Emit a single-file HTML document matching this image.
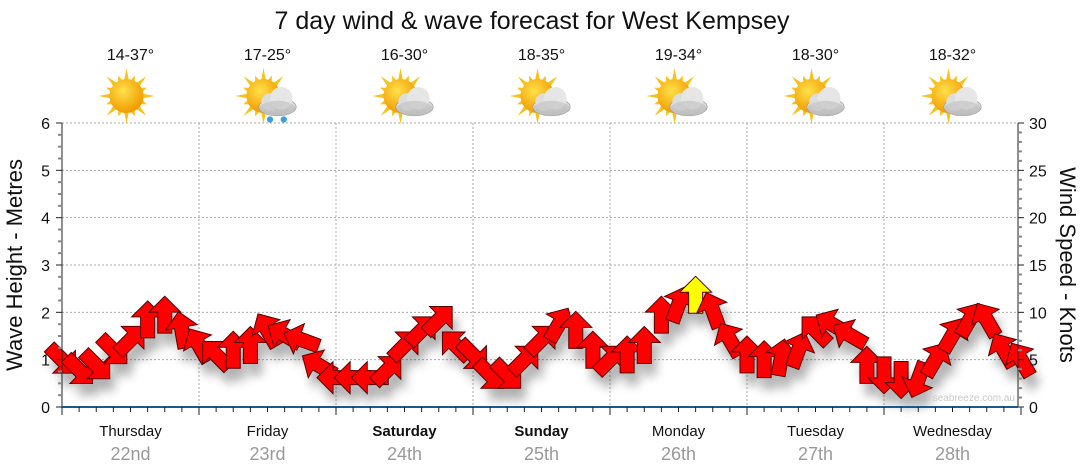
<!DOCTYPE html>
<html><head><meta charset="utf-8">
<style>
html,body{margin:0;padding:0;background:#fff;}
svg{display:block;font-family:"Liberation Sans","DejaVu Sans",sans-serif;}
</style></head>
<body>
<svg id="chart" width="1080" height="475" viewBox="0 0 1080 475" xmlns="http://www.w3.org/2000/svg">
<defs>
<radialGradient id="sunG" cx="40%" cy="35%" r="65%"><stop offset="0" stop-color="#ffe14a"/><stop offset="1" stop-color="#f29a00"/></radialGradient>
<linearGradient id="cloudG" x1="0" y1="0" x2="0" y2="1"><stop offset="0" stop-color="#f2f2f2"/><stop offset="1" stop-color="#a9a9a9"/></linearGradient>
<filter id="sh" x="-50%" y="-50%" width="200%" height="200%"><feGaussianBlur stdDeviation="5"/></filter>
</defs>
<text x="532" y="29" text-anchor="middle" font-size="25" fill="#111">7 day wind &amp; wave forecast for West Kempsey</text>
<g id="grid"></g>
<g id="icons"></g>
<g id="shadows" filter="url(#sh)" opacity="0.3"></g>
<g id="arrows"></g>
<g id="axes"></g>
<text transform="translate(22,265) rotate(-90)" text-anchor="middle" font-size="22" fill="#111">Wave Height - Metres</text>
<text transform="translate(1060,265) rotate(90)" text-anchor="middle" font-size="22" fill="#111">Wind Speed - Knots</text>
<text x="1015" y="401" text-anchor="end" font-size="10" fill="#c8c8c8">seabreeze.com.au</text>
</svg>
<script>
const days = ["Thursday","Friday","Saturday","Sunday","Monday","Tuesday","Wednesday"];
const dates = ["22nd","23rd","24th","25th","26th","27th","28th"];
const temps = ["14-37°","17-25°","16-30°","18-35°","19-34°","18-30°","18-32°"];
const weather = ["sun","rain","cloud","cloud","cloud","cloud","cloud"];
const waveTicks = [0,1,2,3,4,5,6];
const windTicks = [0,5,10,15,20,25,30];
// wind speed (knots) every 3 hours
const windSpeed = [5.0,3.9,4.4,6.0,7.1,9.2,9.7,8.1,
  6.5,5.5,6.0,6.5,8.1,7.6,7.1,4.4,
  3.1,3.1,3.1,3.9,6.5,8.1,9.2,6.5,
  5.5,3.4,3.4,5.0,7.1,8.7,8.1,6.0,
  5.0,5.5,6.5,9.7,10.8,11.8,10.2,7.1,
  5.5,5.0,5.2,6.0,8.1,8.7,7.6,4.4,
  3.4,2.9,2.9,5.0,7.6,9.2,9.2,6.0,5.0];
// arrow heading (degrees, 0 = pointing up, clockwise)
const windDir = [135,135,135,135,45,0,0,350,
  330,315,0,0,330,300,290,300,
  270,270,270,45,45,45,45,315,
  135,135,135,45,45,30,0,0,
  45,0,0,0,20,0,340,330,
  0,0,10,20,315,300,300,0,
  180,180,200,30,30,30,330,330,330];

const NS="http://www.w3.org/2000/svg";
const X0=62,X1=1018,Y0=407,Y1=123;
const dayW=(1021-62)/7;
const xDay=d=>X0+d*dayW;
const xStep=i=>X0+i*dayW/8;
const yWave=m=>Y0-(Y0-Y1)*m/6;
const yWind=k=>Y0-(Y0-Y1)*k/30;
function mk(tag,attrs,parent){const e=document.createElementNS(NS,tag);for(const k in attrs)e.setAttribute(k,attrs[k]);if(parent)parent.appendChild(e);return e;}
const grid=document.getElementById('grid'),axes=document.getElementById('axes'),icons=document.getElementById('icons'),arrows=document.getElementById('arrows'),shadows=document.getElementById('shadows');

waveTicks.forEach(m=>{ if(m===0)return;
  const l=mk('line',{x1:X0,x2:X1,y1:yWave(m),y2:yWave(m),stroke:'#aaa','stroke-dasharray':'2,2'},grid);
  
  
});
for(let d=1;d<7;d++){
  const l=mk('line',{x1:xDay(d),x2:xDay(d),y1:Y1,y2:Y0,stroke:'#aaa','stroke-dasharray':'2,2'},grid);
  
  
}
mk('line',{x1:X0,x2:X0,y1:Y1,y2:Y0,stroke:'#222'},axes);
for(let m=0;m<=6.001;m+=0.25){const maj=Math.abs(m-Math.round(m))<0.01;
  mk('line',{x1:X0-(maj?6:4),x2:X0,y1:yWave(m),y2:yWave(m),stroke:maj?'#222':'#888','stroke-width':maj?1:2},axes);}
waveTicks.forEach(m=>{const t=mk('text',{x:X0-12,y:yWave(m)+6,'text-anchor':'end','font-size':16,fill:'#111'},axes);t.textContent=m;
  
  });
mk('line',{x1:X1,x2:X1,y1:Y1,y2:Y0,stroke:'#222'},axes);
for(let k=0;k<=30;k++){const maj=k%5===0;
  mk('line',{x1:X1,x2:X1+(maj?6:4),y1:yWind(k),y2:yWind(k),stroke:maj?'#222':'#888','stroke-width':maj?1:2},axes);}
windTicks.forEach(k=>{const t=mk('text',{x:X1+11,y:yWind(k)+6,'font-size':16,fill:'#111'},axes);t.textContent=k;
  
  });
mk('line',{x1:X0,x2:X1,y1:Y0,y2:Y0,stroke:'#1a5a8a','stroke-width':2},axes);
for(let i=0;i<=56;i++){const maj=i%8===0;
  mk('line',{x1:xStep(i),x2:xStep(i),y1:Y0,y2:Y0+(maj?8:5),stroke:'#222'},axes);}
days.forEach((d,i)=>{const cx=xDay(i)+dayW/2;
  const t=mk('text',{x:cx,y:436,'text-anchor':'middle','font-size':15,fill:'#111','font-weight':(i===2||i===3)?'bold':'normal'},axes);t.textContent=d;
  
  
  const t2=mk('text',{x:cx,y:460,'text-anchor':'middle','font-size':18,fill:'#999'},axes);t2.textContent=dates[i];
  
  
  const t3=mk('text',{x:cx,y:60,'text-anchor':'middle','font-size':16,fill:'#111'},icons);t3.textContent=temps[i];
  
  
  const g=mk('g',{transform:`translate(${cx-4},96)`},icons);
  
  
  for(let a=0;a<16;a++){const ang=a*Math.PI/8,r1=16,r2=a%2?22:28;
    mk('polygon',{points:`${Math.cos(ang-0.15)*r1},${Math.sin(ang-0.15)*r1} ${Math.cos(ang)*r2},${Math.sin(ang)*r2} ${Math.cos(ang+0.15)*r1},${Math.sin(ang+0.15)*r1}`,fill:'#f7c21b'},g);}
  mk('circle',{cx:0,cy:0,r:17,fill:'url(#sunG)'},g);
  if(weather[i]!=='sun'){
    const c=mk('g',{transform:'translate(14,6) scale(1.25)'},g);
    mk('ellipse',{cx:0,cy:4,rx:15,ry:7,fill:'url(#cloudG)',stroke:'#999','stroke-width':0.5},c);
    mk('circle',{cx:-6,cy:0,r:7,fill:'#ddd'},c);
    mk('circle',{cx:3,cy:-3,r:9,fill:'#e6e6e6'},c);
    mk('ellipse',{cx:0,cy:5,rx:14,ry:6,fill:'#c4c4c4',opacity:0.7},c);
    if(weather[i]==='rain'){mk('circle',{cx:-6,cy:14,r:2.5,fill:'#3aa0e0'},c);mk('circle',{cx:5,cy:14,r:2.5,fill:'#3aa0e0'},c);}
  }
});
// arrows (large block arrows)
const arrowPts="0,-19 16,-3 7,-3 7,18 -7,18 -7,-3 -16,-3";
windSpeed.forEach((k,i)=>{
  const x=xStep(i),y=yWind(k);
  mk('polygon',{points:arrowPts,transform:`translate(${x+5},${y+12}) rotate(${windDir[i]})`,fill:'#000'},shadows);
});
windSpeed.forEach((k,i)=>{
  const x=xStep(i),y=yWind(k);
  const p=mk('polygon',{points:arrowPts,transform:`translate(${x},${y}) rotate(${windDir[i]})`,fill:k>=11.5?'#ffff00':'#ff0000',stroke:'#5a0000','stroke-width':1});
  arrows.appendChild(p);
  
  
});
</script>
</body></html>
